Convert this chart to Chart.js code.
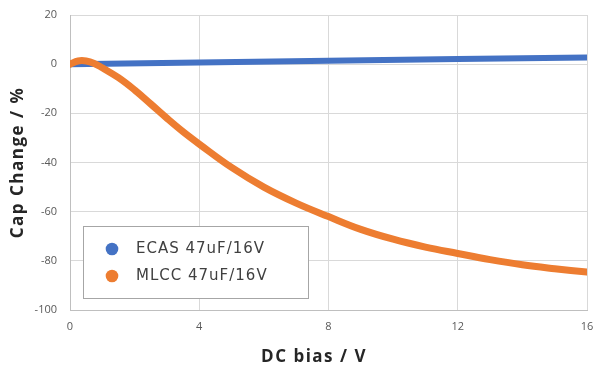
<!DOCTYPE html>
<html>
<head>
<meta charset="utf-8">
<script src="https://cdn.jsdelivr.net/npm/chart.js@4/dist/chart.umd.min.js"></script>
<style>
  html, body { margin: 0; padding: 0; background: #fff; }
  #wrap { width: 600px; height: 375px; }
</style>
</head>
<body>
<div id="wrap"><canvas id="chart" width="600" height="375"></canvas></div>
<script>
// values
const seriesNames = ["ECAS 47uF/16V", "MLCC 47uF/16V"];
const ecasBias = [0, 4, 8, 12, 16];
const ecasCap = [0, 0.7, 1.4, 2.1, 2.7];
const mlccBias = [0, 0.25, 0.5, 0.75, 1, 1.5, 2, 2.5, 3, 3.5, 4, 5, 6, 7, 8, 9, 10, 11, 12, 13, 14, 15, 16];
const mlccCap = [0, 1.3, 1.3, 0.3, -1.5, -5.5, -10.5, -16.2, -22, -27.5, -32.5, -42, -50, -56.5, -62, -67.2, -71.2, -74.4, -77, -79.5, -81.6, -83.2, -84.6];
const xTicks = [0, 4, 8, 12, 16];
const yTicks = [20, 0, -20, -40, -60, -80, -100];

const colors = ["#4472C4", "#ED7D31"];
const toPoints = (xs, ys) => xs.map((x, i) => ({ x: x, y: ys[i] }));

// axis titles + legend box, drawn with letter spacing
const decor = {
    id: "decor",
    afterDraw(chart) {
        const ctx = chart.ctx;
        const area = chart.chartArea;
        ctx.save();
        ctx.fillStyle = "#262626";
        ctx.font = "bold 17px 'Open Sans'";
        ctx.letterSpacing = "1.5px";
        ctx.textAlign = "center";
        ctx.textBaseline = "middle";
        ctx.fillText("DC bias / V", 314, 357);
        ctx.translate(18, (area.top + area.bottom) / 2);
        ctx.rotate(-Math.PI / 2);
        ctx.fillText("Cap Change / %", 0, 0);
        ctx.restore();

        ctx.save();
        ctx.fillStyle = "#fff";
        ctx.fillRect(83.5, 226.5, 225, 72);
        ctx.strokeStyle = "#a6a6a6";
        ctx.lineWidth = 1;
        ctx.strokeRect(83.5, 226.5, 225, 72);
        ctx.font = "15px 'DejaVu Sans'";
        ctx.letterSpacing = "1px";
        ctx.textBaseline = "middle";
        ctx.textAlign = "left";
        seriesNames.forEach((name, i) => {
            const y = 249 + i * 27;
            ctx.fillStyle = colors[i];
            ctx.beginPath();
            ctx.arc(112, y, 6.3, 0, Math.PI * 2);
            ctx.fill();
            ctx.fillStyle = "#404040";
            ctx.fillText(name, 136, y);
        });
        ctx.restore();
    }
};

new Chart(document.getElementById("chart"), {
    type: "line",
    data: {
        datasets: [
            {
                label: seriesNames[0],
                data: toPoints(ecasBias, ecasCap),
                borderColor: colors[0],
                backgroundColor: colors[0],
                borderWidth: 6,
                borderCapStyle: "round",
                pointRadius: 0,
                order: 2,
            },
            {
                label: seriesNames[1],
                data: toPoints(mlccBias, mlccCap),
                borderColor: colors[1],
                backgroundColor: colors[1],
                borderWidth: 7,
                borderCapStyle: "round",
                borderJoinStyle: "round",
                tension: 0.4,
                pointRadius: 0,
                order: 1,
            },
        ],
    },
    options: {
        responsive: false,
        animation: false,
        layout: { padding: { top: 15, right: 13, left: 0, bottom: 0 } },
        plugins: { legend: { display: false }, tooltip: { enabled: false } },
        scales: {
            x: {
                type: "linear",
                min: 0,
                max: 16,
                afterBuildTicks: (scale) => { scale.ticks = xTicks.map(v => ({ value: v })); },
                afterFit: (scale) => {
                    scale.height = 65;
                    scale.paddingLeft = 0;
                    scale.paddingRight = 0;
                },
                grid: { color: "#d9d9d9", drawTicks: false },
                border: { color: "#bfbfbf" },
                ticks: { color: "#595959", font: { family: "'Open Sans'", size: 11 }, padding: 10 },
            },
            y: {
                min: -100,
                max: 20,
                afterBuildTicks: (scale) => { scale.ticks = yTicks.map(v => ({ value: v })); },
                afterFit: (scale) => {
                    scale.width = 70;
                    scale.paddingTop = 0;
                    scale.paddingBottom = 0;
                },
                grid: { color: "#d9d9d9", drawTicks: false },
                border: { color: "#bfbfbf" },
                ticks: { color: "#595959", font: { family: "'Open Sans'", size: 11 }, padding: 13 },
            },
        },
    },
    plugins: [decor],
});
</script>
</body>
</html>
